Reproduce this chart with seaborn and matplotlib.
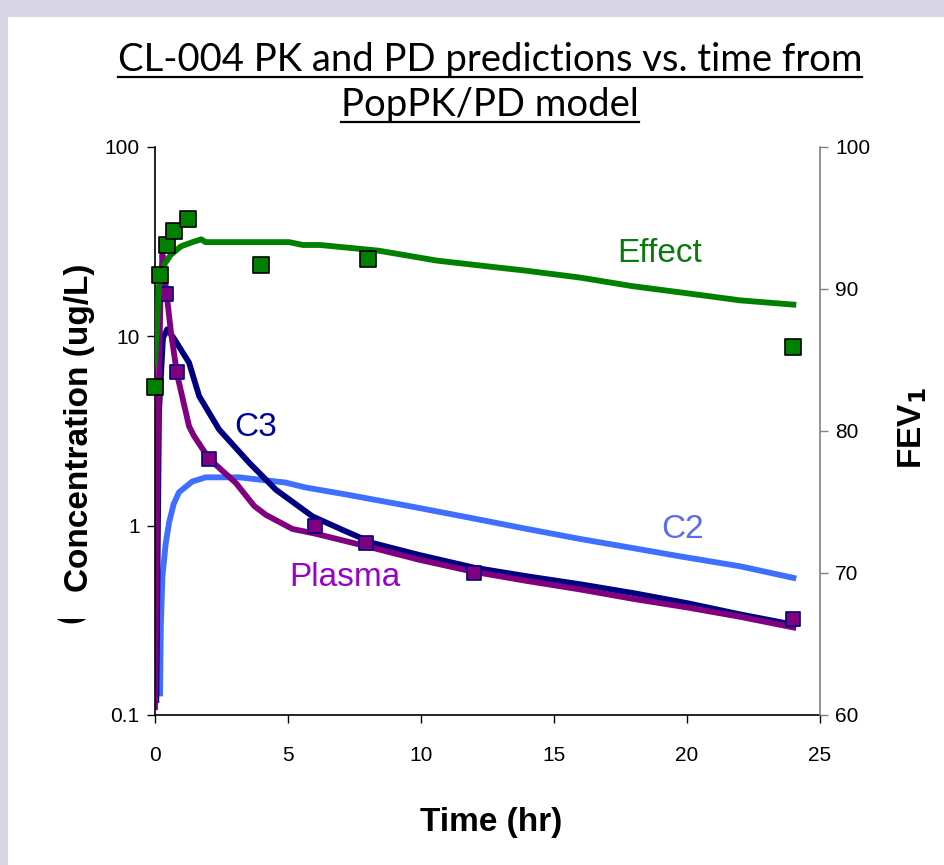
import numpy as np
import pandas as pd
import seaborn as sns
import matplotlib.pyplot as plt
from matplotlib.lines import Line2D
from matplotlib.patches import Rectangle
from matplotlib.transforms import Bbox
from matplotlib.ticker import FixedLocator, FixedFormatter, NullLocator

# predicted concentrations (ug/L)
t_plasma = [0.0, 0.1, 0.2, 0.28, 0.42, 0.6, 0.83, 1.28, 1.47, 2.03, 3.04, 3.73, 4.17,
            5.17, 5.99, 7.93, 9.94, 12.0, 14.0, 16.0, 18.0, 20.0, 22.0, 24.0]
plasma = [0.11, 2.5, 15.0, 27.0, 17.5, 10.5, 6.3, 3.35, 2.97, 2.26, 1.68, 1.27, 1.14,
          0.96, 0.91, 0.78, 0.66, 0.57, 0.51, 0.46, 0.41, 0.37, 0.33, 0.29]

t_c3 = [0.05, 0.15, 0.3, 0.46, 0.7, 1.28, 1.66, 2.41, 3.54, 4.54, 5.92, 7.05, 8.18,
        9.94, 12.0, 14.0, 16.0, 18.0, 20.0, 22.0, 24.0]
c3 = [0.12, 4.0, 9.8, 10.9, 9.8, 7.26, 4.83, 3.22, 2.15, 1.55, 1.12, 0.95, 0.81,
      0.70, 0.60, 0.54, 0.49, 0.44, 0.39, 0.34, 0.30]

t_c2 = [0.19, 0.22, 0.28, 0.4, 0.53, 0.7, 0.9, 1.4, 1.9, 3.16, 4.9, 5.67, 7.2, 9.8,
        12.0, 14.0, 16.0, 18.0, 19.7, 22.0, 24.0]
c2 = [0.13, 0.3, 0.54, 0.8, 1.04, 1.3, 1.5, 1.71, 1.8, 1.8, 1.69, 1.59, 1.46, 1.25,
      1.09, 0.96, 0.85, 0.76, 0.69, 0.61, 0.53]

# observed plasma concentrations
t_obs = [0.42, 0.83, 2.03, 6.0, 7.93, 12.0, 24.0]
obs_plasma = [16.8, 6.5, 2.26, 0.99, 0.81, 0.56, 0.32]

# FEV1 effect
t_eff = [0.0, 0.15, 0.34, 0.59, 0.97, 1.41, 1.74, 1.9, 5.05, 5.55, 6.2, 8.4, 10.6,
         12.0, 13.9, 16.0, 17.95, 20.0, 22.0, 24.0]
effect = [84.8, 90.2, 91.7, 92.4, 93.0, 93.3, 93.5, 93.3, 93.3, 93.1, 93.1, 92.7, 92.0,
          91.7, 91.3, 90.8, 90.2, 89.7, 89.2, 88.9]
t_fev = [0.0, 0.18, 0.45, 0.72, 1.25, 4.0, 8.0, 24.0]
obs_fev = [83.1, 91.0, 93.1, 94.1, 94.9, 91.7, 92.1, 85.9]

plt.rcParams['font.family'] = ['Liberation Sans', 'DejaVu Sans']

fig = plt.figure(figsize=(9.45, 8.65), dpi=100)
fig.patch.set_facecolor('#d9d6e5')
fig.add_artist(Rectangle((8 / 945, 0), 1, 1 - 17 / 865, transform=fig.transFigure,
                         facecolor='white', edgecolor='none', zorder=-10))

ax = fig.add_axes([155 / 945, 150 / 865, 665 / 945, 568 / 865])
ax.set_facecolor('none')

lw = 4.2
sns.lineplot(x=t_c2, y=c2, color='#3f6fff', linewidth=lw, ax=ax)
sns.lineplot(x=t_c3, y=c3, color='#000080', linewidth=lw, ax=ax)
sns.lineplot(x=t_plasma, y=plasma, color='#800080', linewidth=lw, ax=ax)
sns.scatterplot(x=t_obs, y=obs_plasma, marker='s', s=110, color='#800080',
                edgecolor='#000080', linewidth=1.2, zorder=5, clip_on=False, ax=ax)

ax.set_yscale('log')
ax.set_xlim(0, 25)
ax.set_ylim(0.1, 100)
ax.set_xticks([0, 5, 10, 15, 20, 25])
ax.yaxis.set_major_locator(FixedLocator([0.1, 1, 10, 100]))
ax.yaxis.set_major_formatter(FixedFormatter(['0.1', '1', '10', '100']))
ax.yaxis.set_minor_locator(NullLocator())
ax.tick_params(axis='both', direction='out', length=6, width=1, labelsize=15, pad=5)
ax.tick_params(axis='x', pad=16)
ax.set_xlabel('Time (hr)', fontsize=24, fontweight='bold')
ax.xaxis.set_label_coords(0.505, -0.162)
ax.set_ylabel('Concentration (ug/L)', fontsize=24, fontweight='bold')
ax.yaxis.set_label_coords(-0.09, 0.505)
ax.spines['top'].set_visible(False)
ax.spines['right'].set_visible(False)
for s in ['left', 'bottom']:
    ax.spines[s].set_color('black')
    ax.spines[s].set_linewidth(1.2)

ax2 = ax.twinx()
sns.lineplot(x=t_eff, y=effect, color='#008000', linewidth=lw, ax=ax2)
sns.scatterplot(x=t_fev, y=obs_fev, marker='s', s=120, color='#008000',
                edgecolor='black', linewidth=1.2, zorder=5, clip_on=False, ax=ax2)
ax2.set_ylim(60, 100)
ax2.set_yticks([60, 70, 80, 90, 100])
ax2.tick_params(axis='y', direction='out', length=6, width=1, labelsize=15,
                pad=5, color='#808080')
ax2.set_ylabel(r'FEV$_\mathbf{1}$', fontsize=24, fontweight='bold')
ax2.yaxis.set_label_coords(1.115, 0.505)
for s in ['top', 'left', 'bottom']:
    ax2.spines[s].set_visible(False)
ax2.spines['right'].set_color('#808080')
ax2.spines['right'].set_linewidth(1.2)

# curve labels
ax2.text(18.98, 92.5, 'Effect', color='#0a7a0a', fontsize=24, ha='center', va='center')
ax.text(3.8, 3.3, 'C3', color='#000099', fontsize=24, ha='center', va='center')
ax.text(19.84, 0.95, 'C2', color='#5b6cf2', fontsize=24, ha='center', va='center')
ax.text(7.12, 0.53, 'Plasma', color='#9a00c8', fontsize=24, ha='center', va='center')

# stray bracket left over from a hidden label
br = fig.text(71 / 945, 1 - 617 / 865, '(', rotation=90, fontsize=24, fontweight='bold',
              ha='center', va='center')
br.set_clip_box(Bbox([[0, 0], [200, 865 - 619]]))

# underlined title
titles = [('CL-004 PK and PD predictions vs. time from', 60),
          ('PopPK/PD model', 105)]
tobjs = []
for txt, ypx in titles:
    tobjs.append(fig.text(490 / 945, 1 - ypx / 865, txt, family='Lato', fontsize=27.5,
                          ha='center', va='center'))
fig.canvas.draw()
r = fig.canvas.get_renderer()
for tt in tobjs:
    bb = tt.get_window_extent(r)
    yy = bb.y0 + 1
    fig.add_artist(Line2D([bb.x0 / 945, bb.x1 / 945], [yy / 865, yy / 865],
                          transform=fig.transFigure, color='black', linewidth=1.6))

fig.savefig('out.png', dpi=100, facecolor=fig.get_facecolor())
